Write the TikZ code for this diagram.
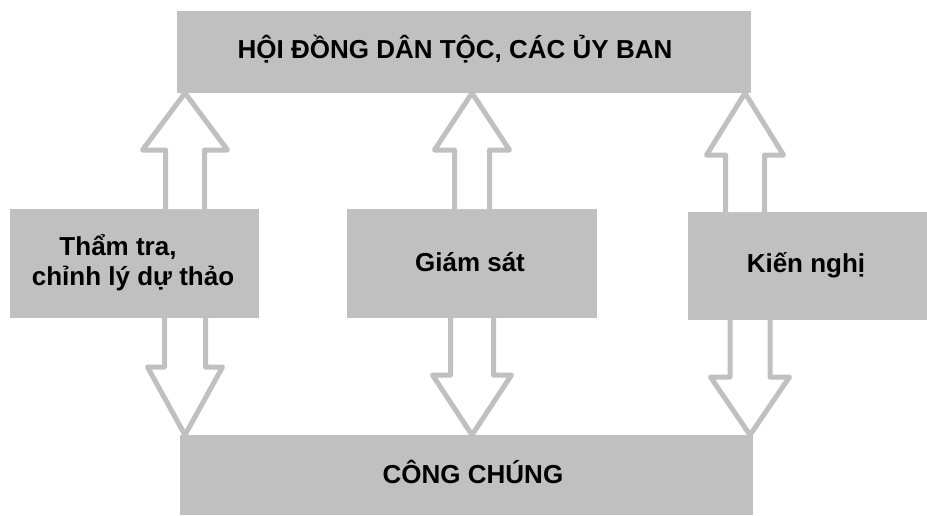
\documentclass[tikz,border=0pt]{standalone}
\usepackage{fontspec}
\setmainfont{Liberation Sans}
\definecolor{boxgray}{RGB}{192,192,192}
\newcommand\blockarr[6]{% #1 x, #2 base anchor, #3 head-base y, #4 tip anchor, #5 head half, #6 shaft half
  \draw[blockarrow] (#1-#6,0 |- #2) -- (#1-#6,#3) -- (#1-#5,#3) -- (#1,0 |- #4) -- (#1+#5,#3) -- (#1+#6,#3) -- (#1+#6,0 |- #2);
}
\begin{document}
\begin{tikzpicture}[x=1pt,y=-1pt,
  box/.style={fill=boxgray, draw=none, inner sep=0pt, outer sep=0pt},
  lbl/.style={inner sep=0pt, anchor=base, font=\fontsize{26}{30}\selectfont\bfseries, text=black},
  blockarrow/.style={draw=boxgray, fill=white, line width=5pt, line join=round}]
\useasboundingbox[fill=white] (0,0) rectangle (927,515);
% boxes
\node[box, minimum width=574pt, minimum height=82pt] (top) at (464,52) {};
\node[box, minimum width=249pt, minimum height=109pt] (lb) at (134.5,263.5) {};
\node[box, minimum width=250pt, minimum height=109pt] (mb) at (472,263.5) {};
\node[box, minimum width=239pt, minimum height=108pt] (rb) at (807.5,266) {};
\node[box, minimum width=573pt, minimum height=80pt] (bot) at (466.5,475) {};
% arrows
\blockarr{185}{lb.north}{150}{top.south}{42.5}{19.5}
\blockarr{472}{mb.north}{150}{top.south}{37.5}{17.5}
\blockarr{745}{rb.north}{155}{top.south}{38.5}{19.5}
\blockarr{185}{lb.south}{367}{bot.north}{37.5}{20.5}
\blockarr{472}{mb.south}{375}{bot.north}{39.5}{21.5}
\blockarr{750}{rb.south}{377}{bot.north}{39.5}{20}
% texts
\node[lbl] (ttop) at (455,58) {HỘI ĐỒNG DÂN TỘC, CÁC ỦY BAN};
\node[lbl] (tl1) at (118,255) {Thẩm tra,};
\node[lbl] (tl2) at (133,285) {chỉnh lý dự thảo};
\node[lbl] (tmid) at (470,271) {Giám sát};
\node[lbl] (tr) at (806,272) {Kiến nghị};
\node[lbl] (tbot) at (473,483) {CÔNG CHÚNG};
\end{tikzpicture}
\end{document}
